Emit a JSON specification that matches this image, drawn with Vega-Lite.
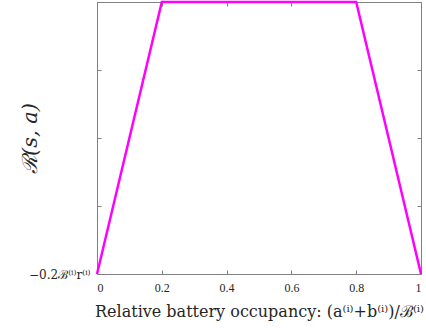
{
  "$schema": "https://vega.github.io/schema/vega-lite/v6.json",
  "width": 324,
  "height": 272,
  "autosize": "none",
  "padding": {"left": 97, "top": 2, "right": 5, "bottom": 54},
  "background": "white",
  "config": {
    "view": {"stroke": null},
    "axis": {
      "domainColor": "#808080",
      "tickColor": "#808080",
      "grid": false,
      "labelFont": "Liberation Serif",
      "titleFont": "Liberation Serif",
      "labelColor": "#262626",
      "titleColor": "#262626",
      "labelFontSize": 12,
      "tickSize": -4,
      "domainWidth": 1,
      "tickWidth": 1
    }
  },
  "data": {"values": [
    {"occ": 0, "r": -0.2},
    {"occ": 0.2, "r": 0.2},
    {"occ": 0.8, "r": 0.2},
    {"occ": 1, "r": -0.2}
  ]},
  "layer": [
    {
      "mark": {"type": "line", "color": "#FF00FF", "strokeWidth": 2.5, "clip": false},
      "encoding": {
        "x": {"field": "occ", "type": "quantitative", "scale": {"domain": [0, 1], "nice": false},
          "axis": {"orient": "bottom", "values": [0, 0.2, 0.4, 0.6, 0.8, 1], "labelExpr": "datum.value == 0 ? '0' : datum.value == 1 ? '1' : format(datum.value, '.1f')", "labelPadding": 12,
            "title": "Relative battery occupancy:  (a⁽ⁱ⁾+b⁽ⁱ⁾)/ℬ⁽ⁱ⁾", "titleFont": "DejaVu Serif", "titleFontSize": 16, "titleFontWeight": "normal", "titlePadding": 10}},
        "y": {"field": "r", "type": "quantitative", "scale": {"domain": [-0.2, 0.2], "nice": false, "zero": false},
          "axis": {"orient": "left", "values": [-0.2, -0.1, 0, 0.1, 0.2], "labelExpr": "datum.value == -0.2 ? '−0.2ℬ⁽ⁱ⁾r⁽ⁱ⁾' : ''", "labelPadding": 11, "labelFont": "DejaVu Serif", "labelFontSize": 12, "labelLimit": 200,
            "title": "ℛ(s, a)", "titleFont": "DejaVu Serif", "titleFontSize": 21, "titleFontWeight": "normal", "titleFontStyle": "italic", "titlePadding": -12}}
      }
    },
    {
      "mark": {"type": "line", "opacity": 0},
      "encoding": {
        "x": {"field": "occ", "type": "quantitative", "scale": {"domain": [0, 1], "nice": false},
          "axis": {"orient": "top", "values": [0, 0.2, 0.4, 0.6, 0.8, 1], "labels": false, "title": null}},
        "y": {"field": "r", "type": "quantitative", "scale": {"domain": [-0.2, 0.2], "nice": false, "zero": false},
          "axis": {"orient": "right", "values": [-0.2, -0.1, 0, 0.1, 0.2], "labels": false, "title": null}}
      }
    }
  ],
  "resolve": {"axis": {"x": "independent", "y": "independent"}}
}
